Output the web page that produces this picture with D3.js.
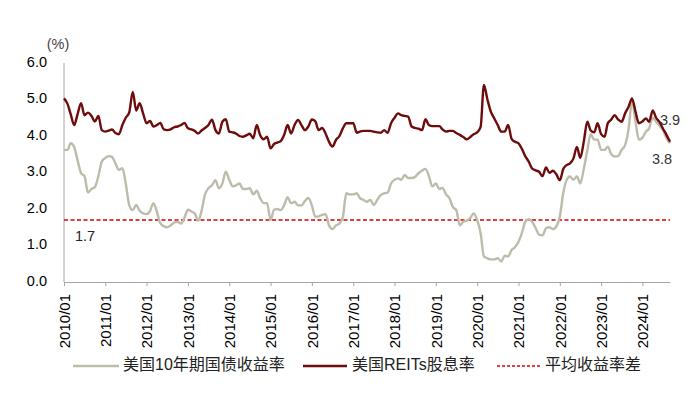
<!DOCTYPE html>
<html lang="zh">
  <head>
    <meta charset="utf-8">
    <title></title>
    <style>
      body { margin: 0; background: #fff; }
      svg { display: block; font-family: "Liberation Sans", Arial, "Noto Sans CJK SC", sans-serif; }
    </style>
  </head>
  <body>
    <svg width="700" height="397"></svg>
  </body>
  <script src="https://cdn.jsdelivr.net/npm/d3@7/dist/d3.min.js" charset="utf-8"></script>
  <script type="text/javascript">

    // monthly readings, 2010/01 .. 2024/09
    const treasury = [
      3.62, 3.62, 3.80, 3.70, 3.34, 2.98, 2.90, 2.45, 2.55, 2.60, 2.90, 3.30,
      3.40, 3.45, 3.43, 3.25, 3.07, 3.12, 2.70, 2.10, 1.97, 2.11, 1.95, 1.88,
      1.86, 1.95, 2.16, 1.93, 1.61, 1.53, 1.50, 1.55, 1.63, 1.65, 1.60, 1.76,
      1.98, 1.93, 1.88, 1.68, 1.95, 2.40, 2.57, 2.65, 2.79, 2.57, 2.70, 3.02,
      2.80, 2.62, 2.65, 2.70, 2.55, 2.55, 2.57, 2.40, 2.50, 2.30, 2.16, 2.16,
      1.70, 1.98, 2.00, 1.97, 2.10, 2.32, 2.16, 2.20, 2.10, 2.10, 2.22, 2.30,
      2.10, 1.79, 1.80, 1.84, 1.86, 1.55, 1.45, 1.55, 1.60, 1.78, 2.43, 2.40,
      2.40, 2.43, 2.30, 2.25, 2.20, 2.25, 2.11, 2.25, 2.38, 2.43, 2.45, 2.70,
      2.80, 2.84, 2.80, 2.93, 2.85, 2.85, 2.88, 2.98, 3.05, 3.10, 2.90, 2.62,
      2.70, 2.55, 2.58, 2.40, 2.30, 2.05, 1.97, 1.55, 1.65, 1.68, 1.75, 1.88,
      1.70, 1.33, 0.70, 0.65, 0.62, 0.62, 0.65, 0.56, 0.72, 0.70, 0.88, 0.95,
      1.10, 1.35, 1.65, 1.72, 1.65, 1.48, 1.30, 1.28, 1.47, 1.50, 1.45, 1.52,
      1.80, 2.45, 2.79, 2.89, 2.80, 2.89, 2.70, 3.10, 3.60, 4.05, 3.90, 3.90,
      3.62, 3.62, 3.71, 3.50, 3.44, 3.45, 3.62, 3.75, 4.20, 4.95, 4.39, 3.90,
      3.95, 4.12, 4.21, 4.50, 4.39, 4.28, 4.16, 3.94, 3.80
    ]

    const reits = [
      5.03, 4.88, 4.60, 4.30, 4.60, 4.90, 4.57, 4.64, 4.55, 4.40, 4.55, 4.16,
      4.12, 4.15, 4.18, 4.08, 4.05, 4.30, 4.50, 4.65, 5.21, 4.70, 4.90, 4.62,
      4.35, 4.41, 4.26, 4.30, 4.36, 4.18, 4.16, 4.18, 4.24, 4.26, 4.30, 4.36,
      4.21, 4.18, 4.14, 4.07, 4.15, 4.22, 4.30, 4.45, 4.16, 4.07, 4.39, 4.46,
      4.12, 4.10, 4.07, 4.00, 3.98, 4.02, 4.06, 3.94, 4.30, 4.02, 3.91, 3.98,
      3.66, 3.78, 3.82, 3.86, 4.03, 4.30, 4.07, 4.30, 4.44, 4.30, 4.16, 4.26,
      4.45, 4.40, 4.16, 4.22, 4.07, 3.84, 3.71, 3.89, 4.00, 4.21, 4.35, 4.35,
      4.35, 4.09, 4.12, 4.14, 4.14, 4.14, 4.12, 4.10, 4.09, 4.16, 4.09, 4.35,
      4.50, 4.62, 4.57, 4.55, 4.53, 4.26, 4.22, 4.20, 4.16, 4.46, 4.30, 4.27,
      4.27, 4.27, 4.18, 4.12, 4.14, 4.14, 4.08, 4.03, 3.97, 3.91, 3.97, 4.05,
      4.10, 4.25, 5.40, 5.00, 4.67, 4.48, 4.30, 4.12, 4.12, 4.30, 3.92, 3.84,
      3.80, 3.64, 3.45, 3.30, 3.11, 3.06, 3.02, 2.90, 3.14, 2.99, 3.05, 2.95,
      2.79, 3.10, 3.20, 3.25, 3.38, 3.70, 3.40, 3.85, 4.39, 4.15, 4.10, 4.35,
      4.05, 3.98, 4.35, 4.45, 4.57, 4.45, 4.39, 4.62, 4.80, 5.03, 4.67, 4.35,
      4.40, 4.48, 4.39, 4.70, 4.50, 4.38, 4.20, 4.03, 3.84
    ]

    const avgSpread = 1.7
    const endLabels = ["3.9", "3.8"]
    const yTicks = [0, 1, 2, 3, 4, 5, 6]
    const tickYears = d3.range(2010, 2025)
    const seriesNames = ["美国10年期国债收益率", "美国REITs股息率", "平均收益率差"]

    const svg = d3.select("svg")
    const grayCol = "#bdbcab",
          redCol = "#6e0b0b",
          dashCol = "#d40000"

    const dates = treasury.map((d, i) => new Date(2010, i, 1))

    const x = d3.scaleTime().domain([dates[0], dates[dates.length - 1]]).range([64, 670]),
          y = d3.scaleLinear().domain([0, 6]).range([282, 63])

    // y axis: line + labels only
    svg.append("line")
      .attr("x1", x.range()[0]).attr("x2", x.range()[0])
      .attr("y1", y(6)).attr("y2", y(0))
      .style("stroke", "#a6a6a6").style("stroke-width", 1)

    svg.selectAll(".ylab")
      .data(yTicks)
      .enter()
      .append("text")
        .attr("x", 47)
        .attr("y", d => y(d))
        .attr("text-anchor", "end")
        .style("dominant-baseline", "middle")
        .style("font-size", "14.5px")
        .style("fill", "#000")
        .text(d => d.toFixed(1))

    svg.append("text")
      .attr("x", 58).attr("y", 45)
      .attr("text-anchor", "middle")
      .style("dominant-baseline", "middle")
      .style("font-size", "14.5px")
      .style("fill", "#444")
      .text("(%)")

    // x axis
    const xAxis = d3.axisBottom(x)
      .tickValues(tickYears.map(yr => new Date(yr, 0, 1)))
      .tickFormat(d3.timeFormat("%Y/%m"))
      .tickSize(4)
      .tickSizeOuter(0)

    const gx = svg.append("g")
      .attr("transform", `translate(0,${y(0)})`)
      .call(xAxis)

    gx.select(".domain").style("stroke", "#a6a6a6")
    gx.selectAll(".tick line").style("stroke", "#a6a6a6")
    gx.selectAll(".tick text")
      .attr("transform", "rotate(-90)")
      .attr("x", -12)
      .attr("y", 0)
      .attr("dy", "0.36em")
      .attr("text-anchor", "end")
      .style("font-size", "15px")
      .style("font-family", "'Liberation Sans', Arial, sans-serif")
      .style("fill", "#000")

    // average line
    svg.append("line")
      .attr("x1", x.range()[0]).attr("x2", x.range()[1])
      .attr("y1", y(avgSpread)).attr("y2", y(avgSpread))
      .style("stroke", dashCol).style("stroke-width", 1.5)
      .style("stroke-dasharray", "4,2.5")

    svg.append("text")
      .attr("x", 75).attr("y", y(avgSpread) + 17)
      .style("dominant-baseline", "middle")
      .style("font-size", "14.5px")
      .style("fill", "#222")
      .text(avgSpread.toFixed(1))

    const line = d3.line()
      .x((d, i) => x(dates[i]))
      .y(d => y(d))
      .curve(d3.curveMonotoneX)

    svg.append("path")
      .datum(treasury)
      .attr("d", line)
      .style("fill", "none")
      .style("stroke", grayCol)
      .style("stroke-width", 2.4)

    svg.append("path")
      .datum(reits)
      .attr("d", line)
      .style("fill", "none")
      .style("stroke", redCol)
      .style("stroke-width", 2.4)

    // end labels
    svg.append("text")
      .attr("x", 660).attr("y", 121)
      .style("dominant-baseline", "middle")
      .style("font-size", "14.5px")
      .style("fill", "#333")
      .text(endLabels[0])

    svg.append("text")
      .attr("x", 652).attr("y", 160)
      .style("dominant-baseline", "middle")
      .style("font-size", "14.5px")
      .style("fill", "#333")
      .text(endLabels[1])

    // legend
    const legend = [
      {x1: 73, x2: 119, tx: 123, col: grayCol, dash: null, w: 2.4},
      {x1: 303, x2: 347, tx: 352, col: redCol, dash: null, w: 2.4},
      {x1: 497, x2: 542, tx: 545, col: "#e00000", dash: "3,2", w: 1.3}
    ]
    const ly = 366

    const lg = svg.selectAll(".lg")
      .data(legend)
      .enter()
      .append("g")

    lg.append("line")
      .attr("x1", d => d.x1).attr("x2", d => d.x2)
      .attr("y1", ly).attr("y2", ly)
      .style("stroke", d => d.col)
      .style("stroke-width", d => d.w)
      .style("stroke-dasharray", d => d.dash)

    lg.append("text")
      .attr("x", d => d.tx).attr("y", ly)
      .style("dominant-baseline", "middle")
      .style("font-size", "16px")
      .style("font-family", "'Liberation Sans', Arial, 'Noto Sans CJK SC', sans-serif")
      .style("fill", "#222")
      .text((d, i) => seriesNames[i])

  </script>
</html>
